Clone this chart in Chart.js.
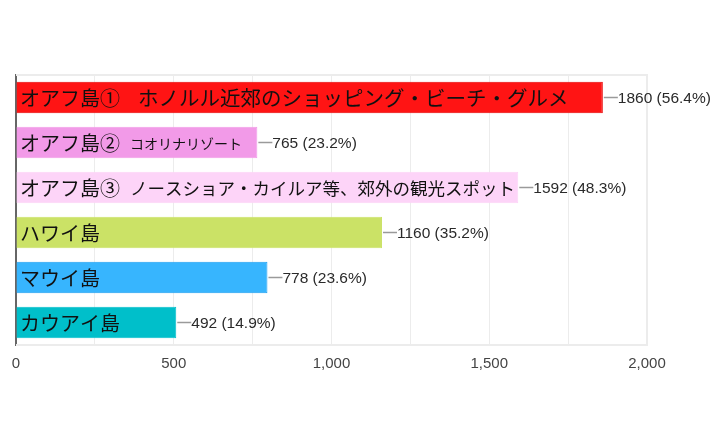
<!DOCTYPE html>
<html>
<head>
<meta charset="utf-8">
<script src="https://cdn.jsdelivr.net/npm/chart.js@4/dist/chart.umd.min.js"></script>
<style>
  html, body { margin: 0; padding: 0; background: #fff; }
  #wrap { width: 720px; height: 432px; }
</style>
</head>
<body>
<div id="wrap"><canvas id="chart" width="720" height="432"></canvas></div>
<script>
const mainLabels = ['オアフ島①', 'オアフ島②', 'オアフ島③', 'ハワイ島', 'マウイ島', 'カウアイ島'];
const subLabels = ['ホノルル近郊のショッピング・ビーチ・グルメ', 'コオリナリゾート', 'ノースショア・カイルア等、郊外の観光スポット', '', '', ''];
const subSizes = [20.5, 14, 17.5, 0, 0, 0];
const subGaps = [18, 10, 10, 0, 0, 0];
// printed counts and shares
const counts = [1860, 765, 1592, 1160, 778, 492];
const percents = ['56.4%', '23.2%', '48.3%', '35.2%', '23.6%', '14.9%'];
// bar lengths as drawn in the picture (the last two run a little past their printed counts)
const barValues = [1860, 765, 1592, 1160, 797, 508];
const fillColors = ['#ff1414', '#f29ae8', '#fdd4f8', '#cbe266', '#37b5fe', '#00bfca'];
const edgeColors = ['#e60000', '#f29ae8', '#fdd4f8', '#cbe266', '#1c9ef0', '#00bfca'];

const cjk = '"Noto Sans CJK JP", "Noto Sans", sans-serif';
const latin = '"Liberation Sans", Arial, sans-serif';

const plotFrame = {
  id: 'plotFrame',
  beforeDatasetsDraw(chart) {
    const { ctx, chartArea: a } = chart;
    ctx.save();
    ctx.strokeStyle = '#ececec';
    ctx.lineWidth = 2;
    ctx.beginPath();
    ctx.moveTo(a.left, a.top);
    ctx.lineTo(a.right, a.top);
    ctx.lineTo(a.right, a.bottom);
    ctx.lineTo(a.left, a.bottom);
    ctx.stroke();
    ctx.restore();
  }
};

const barLabels = {
  id: 'barLabels',
  afterDatasetsDraw(chart) {
    const ctx = chart.ctx;
    const meta = chart.getDatasetMeta(0);
    ctx.save();
    ctx.textBaseline = 'middle';
    meta.data.forEach((bar, i) => {
      const y = bar.y;
      ctx.fillStyle = '#111';
      ctx.font = '20px ' + cjk;
      ctx.fillText(mainLabels[i], 20, y + 1);
      if (subLabels[i]) {
        const w = ctx.measureText(mainLabels[i]).width;
        ctx.font = subSizes[i] + 'px ' + cjk;
        ctx.fillText(subLabels[i], 20 + w + subGaps[i], y + 1);
      }
      const end = bar.x;
      ctx.strokeStyle = '#9a9a9a';
      ctx.lineWidth = 1.5;
      ctx.beginPath();
      ctx.moveTo(end + 1, y);
      ctx.lineTo(end + 15, y);
      ctx.stroke();
      ctx.fillStyle = '#2a2a2a';
      ctx.font = '15.5px ' + latin;
      ctx.fillText(counts[i] + ' (' + percents[i] + ')', end + 15, y + 1);
    });
    ctx.restore();
  }
};

new Chart(document.getElementById('chart'), {
  type: 'bar',
  data: {
    labels: mainLabels,
    datasets: [{
      data: barValues,
      backgroundColor: fillColors,
      borderColor: edgeColors,
      borderWidth: 1,
      borderSkipped: 'left',
      categoryPercentage: 0.8,
      barPercentage: 0.88
    }]
  },
  options: {
    indexAxis: 'y',
    responsive: false,
    animation: false,
    layout: { padding: { left: 16, right: 73, top: 75, bottom: 57 } },
    plugins: { legend: { display: false }, tooltip: { enabled: false } },
    scales: {
      x: {
        min: 0,
        max: 2000,
        afterFit: s => { s.height = 30; },
        ticks: {
          stepSize: 250,
          autoSkip: false,
          maxRotation: 0,
          padding: 10,
          color: '#444',
          font: { family: latin, size: 15 },
          callback: v => (v % 500 === 0 ? v.toLocaleString('en-US') : '')
        },
        grid: { color: '#ececec', lineWidth: 1, drawTicks: false },
        border: { display: false }
      },
      y: {
        afterFit: s => { s.width = 0; },
        ticks: { display: false },
        grid: { display: false, drawTicks: false },
        border: { display: true, color: '#666', width: 2 }
      }
    }
  },
  plugins: [plotFrame, barLabels]
});
</script>
</body>
</html>
